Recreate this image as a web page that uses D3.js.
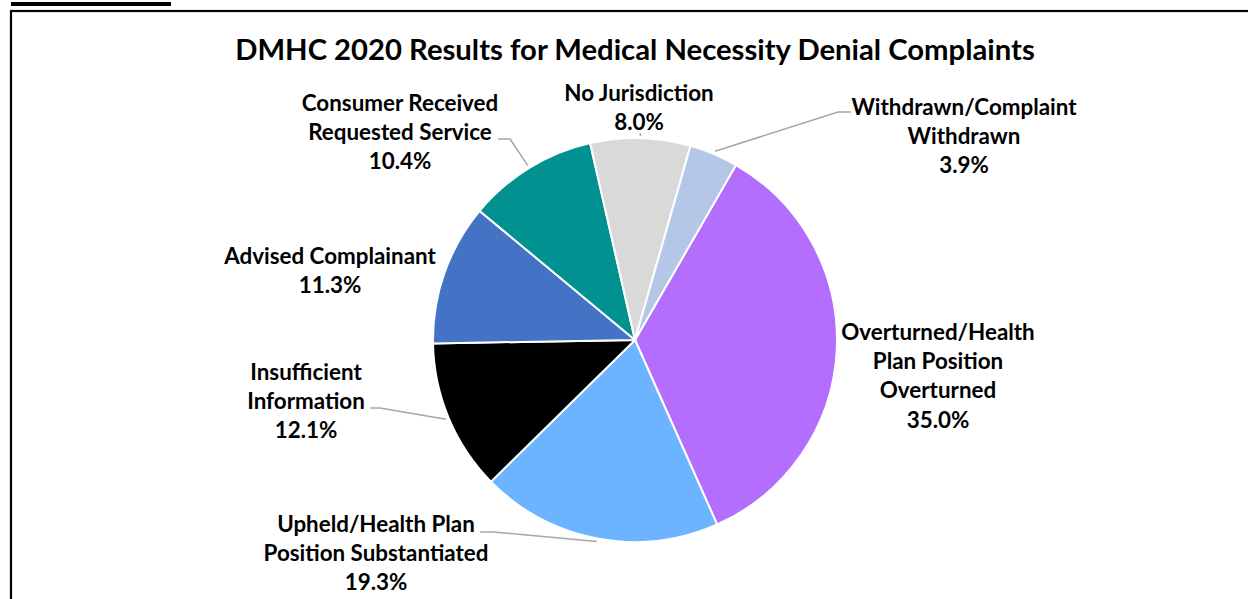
<!DOCTYPE html>
<html>
<head>
<meta charset="utf-8">
<script src="https://cdn.jsdelivr.net/npm/d3@7"></script>
<style>
  html, body { margin: 0; padding: 0; background: #fff; overflow: hidden; }
  svg { display: block; }
  text { font-family: Lato, "Open Sans", sans-serif; font-weight: 700; fill: #000; }
</style>
</head>
<body>
<svg id="chart" width="1248" height="599"></svg>
<script>
// Complaint outcome categories, clockwise from the Overturned slice
const categories = [
  "Overturned/Health Plan Position Overturned",
  "Upheld/Health Plan Position Substantiated",
  "Insufficient Information",
  "Advised Complainant",
  "Consumer Received Requested Service",
  "No Jurisdiction",
  "Withdrawn/Complaint Withdrawn"
];
const shares = [35.0, 19.3, 12.1, 11.3, 10.4, 8.0, 3.9];
const colors = ["#B46EFD", "#6CB4FF", "#000000", "#4472C4", "#009190", "#D9D9D9", "#B4C7E7"];
// Label text broken into lines as printed
const labelLines = [
  ["Overturned/Health", "Plan Position", "Overturned"],
  ["Upheld/Health Plan", "Position Substantiated"],
  ["Insufficient", "Information"],
  ["Advised Complainant"],
  ["Consumer Received", "Requested Service"],
  ["No Jurisdiction"],
  ["Withdrawn/Complaint", "Withdrawn"]
];
const title = "DMHC 2020 Results for Medical Necessity Denial Complaints";

const svg = d3.select("#chart");
const cx = 635, cy = 340, R = 202;

// Frame and heading rule
svg.append("rect").attr("x", 11).attr("y", 2).attr("width", 160).attr("height", 4).attr("fill", "#000");
svg.append("rect").attr("x", 11).attr("y", 11).attr("width", 1300).attr("height", 700)
  .attr("fill", "none").attr("stroke", "#000").attr("stroke-width", 2.2);

// Title, fitted to its printed width
const t = svg.append("text").attr("x", cx).attr("y", 60).attr("text-anchor", "middle")
  .style("font-size", "27px").text(title);
const tl = t.node().getComputedTextLength();
t.style("font-size", (27 * 800 / tl) + "px");

const data = categories.map((c, i) => ({ name: c, value: shares[i], color: colors[i], lines: labelLines[i] }));

const pie = d3.pie().sort(null).value(d => d.value).startAngle(30 * Math.PI / 180).endAngle(390 * Math.PI / 180);
const arcs = pie(data);
const arc = d3.arc().innerRadius(0).outerRadius(R);

const g = svg.append("g").attr("transform", `translate(${cx},${cy})`);
g.selectAll("path").data(arcs).join("path")
  .attr("d", arc)
  .attr("fill", d => d.data.color)
  .attr("stroke", "#fff")
  .attr("stroke-width", 2)
  .attr("stroke-linejoin", "round");

// Label placement (center x, first line center y) and leader elbows
const labelPos = [
  { x: 938, y: 332 },
  { x: 376, y: 524, elbow: [480, 493, 532] },
  { x: 306, y: 372, elbow: [370, 380, 408] },
  { x: 330, y: 256 },
  { x: 400, y: 103, elbow: [498, 510, 139] },
  { x: 639, y: 93, tick: true },
  { x: 964, y: 107, elbow: [851, 838, 112] }
];
const lineH = 29.3;
const labelSize = 19;

const labels = svg.append("g");
arcs.forEach((a, i) => {
  const p = labelPos[i];
  const lines = a.data.lines.concat([a.data.value.toFixed(1) + "%"]);
  const txt = labels.append("text").attr("text-anchor", "middle").style("font-size", labelSize + "px");
  lines.forEach((ln, k) => {
    txt.append("tspan").attr("x", p.x).attr("y", p.y + k * lineH).attr("dy", "0.35em").text(ln);
  });
  const mid = (a.startAngle + a.endAngle) / 2;
  const ex = cx + (R + 3) * Math.sin(mid), ey = cy - (R + 3) * Math.cos(mid);
  if (p.elbow) {
    const [x0, x1, y0] = p.elbow;
    svg.append("path")
      .attr("d", d3.line()([[x0, y0], [x1, y0], [ex, ey]]))
      .attr("fill", "none").attr("stroke", "#A6A6A6").attr("stroke-width", 1.5);
  } else if (p.tick) {
    svg.append("path")
      .attr("d", d3.line()([[ex - 0.5, ey - 2], [ex, ey + 1]]))
      .attr("fill", "none").attr("stroke", "#A6A6A6").attr("stroke-width", 1.5);
  }
});

// Fit label size so the longest printed line keeps its width
const probe = svg.append("text").style("font-size", "19px").text("Position Substantiated");
const pw = probe.node().getComputedTextLength();
probe.remove();
labels.selectAll("text").style("font-size", (19 * 225 / pw) + "px");
</script>
</body>
</html>
